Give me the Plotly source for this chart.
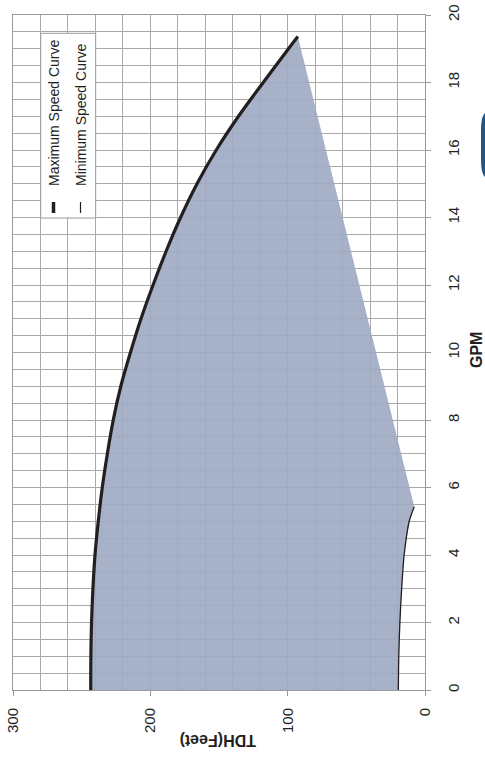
import plotly.graph_objects as go

# Data (GPM vs TDH in feet)
max_gpm = [0, 1, 2, 3, 4, 5, 6, 7, 8, 9, 10, 11, 12, 13, 14, 15, 16, 17, 18, 19, 19.36]
max_tdh = [243.4, 243.3, 242.8, 241.8, 240.3, 237.9, 235.0, 231.3, 227.0, 221.5, 214.5,
           206.8, 198.0, 188.5, 178.0, 166.0, 152.0, 135.8, 117.8, 99.4, 92.6]
min_gpm = [0, 1, 2, 3, 4, 5, 5.43]
min_tdh = [19.4, 19.1, 18.3, 17.0, 15.2, 11.5, 7.8]

tdh_ticks = [300, 200, 100, 0]
gpm_ticks = [0, 2, 4, 6, 8, 10, 12, 14, 16, 18, 20]

W, H = 485, 757
L, R, T, B = 13, 60, 15, 67
pw, ph = W - L - R, H - T - B


def px(x):
    return (x - L) / pw


def py(y):
    return (H - B - y) / ph


FONT = "Liberation Sans, Arial, sans-serif"
GRID = "#a9a9a9"

fig = go.Figure()

# Shaded operating region
poly_x = max_tdh + min_tdh[::-1]
poly_y = max_gpm + min_gpm[::-1]
fig.add_trace(go.Scatter(x=poly_x, y=poly_y, fill="toself", mode="lines",
                         line=dict(width=0), fillcolor="rgba(160,171,195,0.92)",
                         hoverinfo="skip", showlegend=False))
fig.add_trace(go.Scatter(x=min_tdh, y=min_gpm, mode="lines",
                         line=dict(color="#231f20", width=1.3, shape="spline", smoothing=0.8),
                         showlegend=False, name="Minimum Speed Curve"))
fig.add_trace(go.Scatter(x=max_tdh, y=max_gpm, mode="lines",
                         line=dict(color="#231f20", width=3.2, shape="spline"),
                         showlegend=False, name="Maximum Speed Curve"))

fig.update_xaxes(range=[300, 0], tickvals=tdh_ticks, ticktext=[str(v) for v in tdh_ticks],
                 tickangle=-90, ticks="outside", ticklen=5, tickcolor="#999999",
                 showgrid=True, gridcolor=GRID, gridwidth=1,
                 minor=dict(dtick=20, showgrid=True, gridcolor=GRID, gridwidth=1),
                 showline=True, linecolor="#999999", linewidth=1, mirror=True,
                 zeroline=False, ticklabelstandoff=6, automargin=False,
                 tickfont=dict(family=FONT, size=15, color="#231f20"))
fig.update_yaxes(range=[0, 20], tickvals=gpm_ticks, ticktext=[str(v) for v in gpm_ticks],
                 side="right", tickangle=-90, ticks="outside", ticklen=5, tickcolor="#999999",
                 showgrid=True, gridcolor=GRID, gridwidth=1,
                 minor=dict(dtick=0.5, showgrid=True, gridcolor=GRID, gridwidth=1),
                 showline=True, linecolor="#999999", linewidth=1, mirror=True,
                 zeroline=False, ticklabelstandoff=10, automargin=False,
                 tickfont=dict(family=FONT, size=15, color="#231f20"))

shapes = [
    # legend box
    dict(type="rect", xref="paper", yref="paper", x0=px(40.7), x1=px(95.7),
         y0=py(218), y1=py(33.3), fillcolor="white", line=dict(color="#999999", width=1),
         layer="above"),
    dict(type="line", xref="paper", yref="paper", x0=px(53.5), x1=px(53.5),
         y0=py(213), y1=py(202), line=dict(color="#231f20", width=3.5), layer="above"),
    dict(type="line", xref="paper", yref="paper", x0=px(80.5), x1=px(80.5),
         y0=py(213), y1=py(202), line=dict(color="#231f20", width=1.2), layer="above"),
    # blue tab at right edge
    dict(type="path", xref="paper", yref="paper",
         path=(f"M {px(495)} {py(112)} L {px(488)} {py(112)} "
               f"Q {px(481)} {py(112)} {px(481)} {py(130)} "
               f"L {px(481)} {py(160)} Q {px(481)} {py(178)} {px(488)} {py(178)} "
               f"L {px(495)} {py(178)} Z"),
         fillcolor="#1d5788", line=dict(width=0), layer="above"),
]

annotations = [
    dict(text="Maximum Speed Curve", xref="paper", yref="paper", x=px(54), y=py(113),
         textangle=-90, showarrow=False, xanchor="center", yanchor="middle",
         font=dict(family=FONT, size=14, color="#231f20")),
    dict(text="Minimum Speed Curve", xref="paper", yref="paper", x=px(81), y=py(115),
         textangle=-90, showarrow=False, xanchor="center", yanchor="middle",
         font=dict(family=FONT, size=14, color="#231f20")),
    dict(text="<b>GPM</b>", xref="paper", yref="paper", x=px(476), y=py(350),
         textangle=-90, showarrow=False, xanchor="center", yanchor="middle",
         font=dict(family=FONT, size=16, color="#231f20")),
    dict(text="<b>TDH(Feet)</b>", xref="paper", yref="paper", x=px(218), y=py(740),
         textangle=180, showarrow=False, xanchor="center", yanchor="middle",
         font=dict(family=FONT, size=16, color="#231f20")),
]

fig.update_layout(width=W, height=H, margin=dict(l=L, r=R, t=T, b=B, autoexpand=False),
                  paper_bgcolor="white", plot_bgcolor="white",
                  shapes=shapes, annotations=annotations, showlegend=False,
                  font=dict(family=FONT))

fig.write_html("out.html", config={"displayModeBar": False},
               post_script="document.body.style.margin='0';document.body.style.overflow='hidden';")
